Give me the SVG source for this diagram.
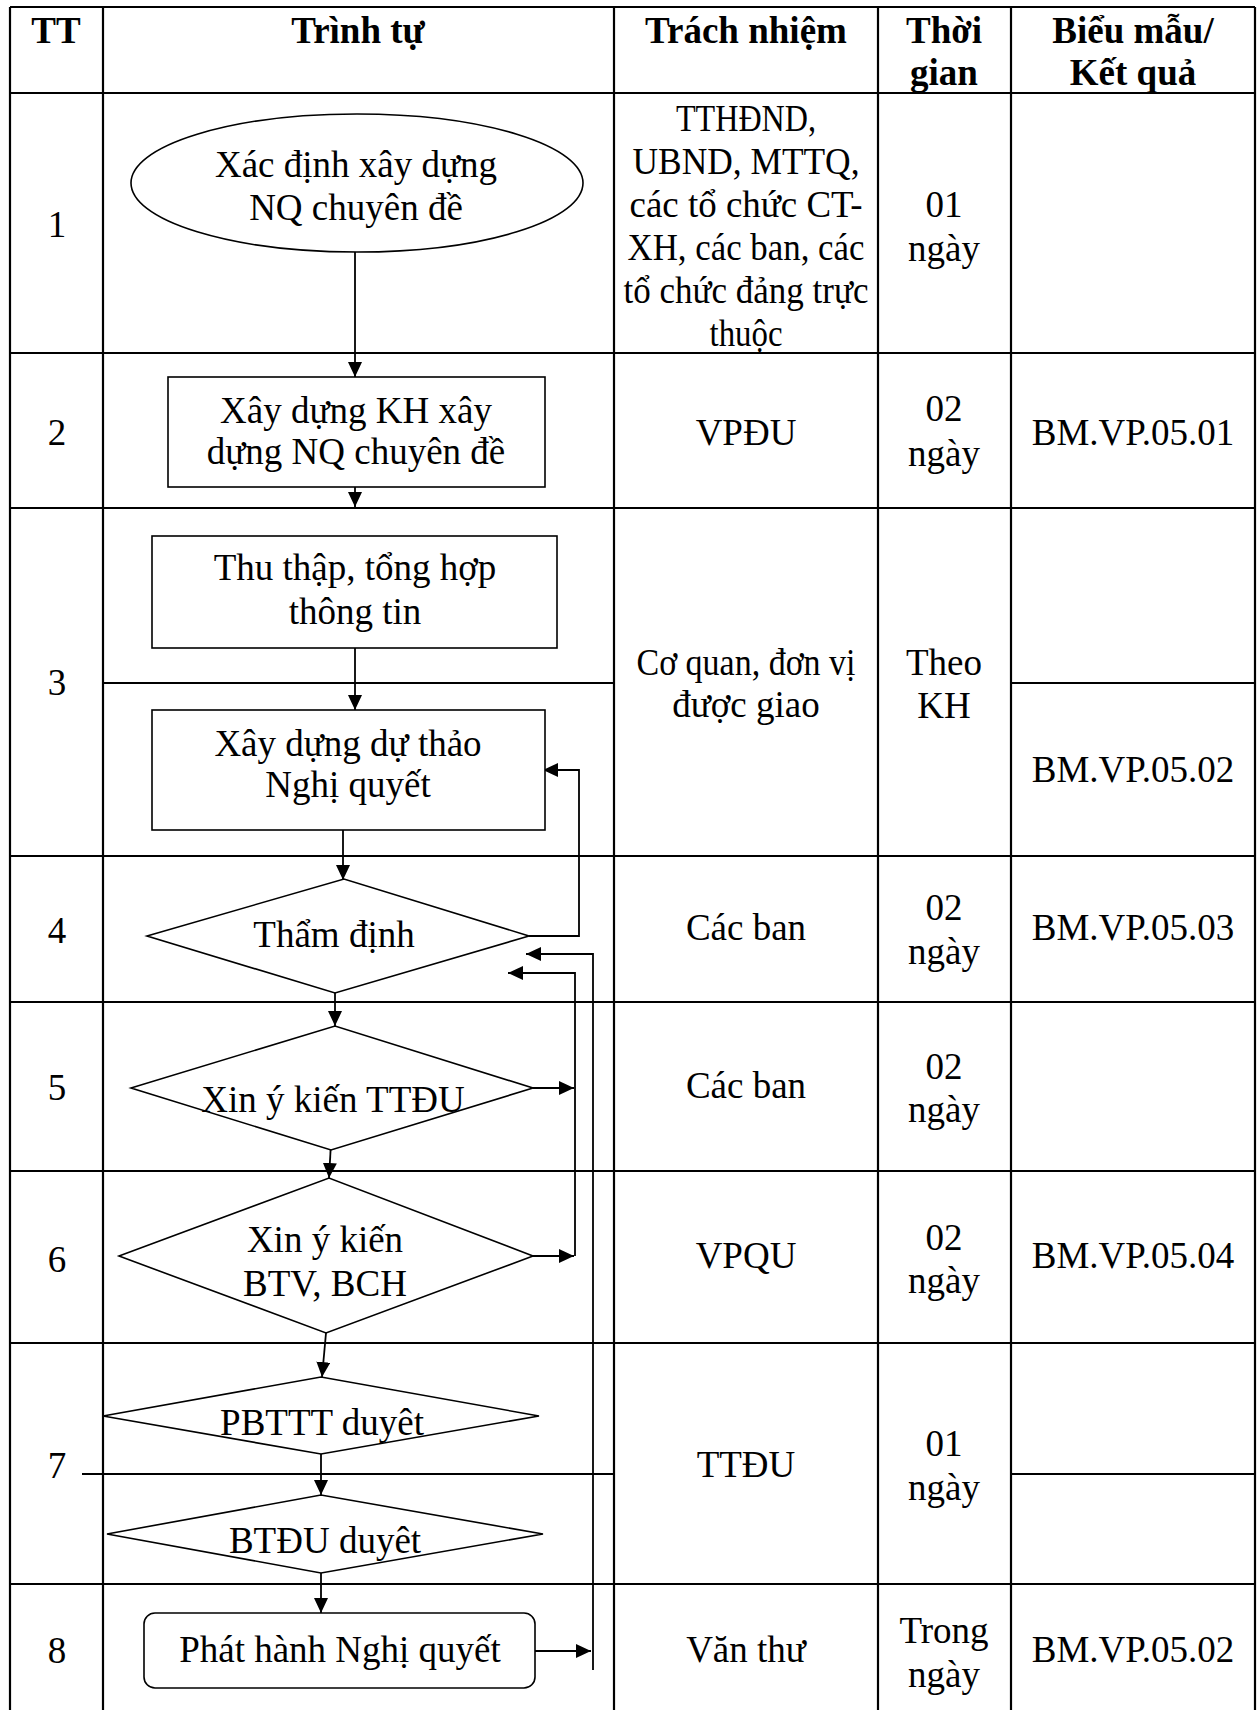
<svg xmlns="http://www.w3.org/2000/svg" width="1257" height="1710" viewBox="0 0 1257 1710">
<style>
.t{font-family:"Liberation Serif","Times New Roman",serif;font-size:37px;text-anchor:middle;fill:#000}
.h{font-weight:bold}
.grid{stroke:#000;stroke-width:2.2;fill:none}
.shape{stroke:#000;stroke-width:1.6;fill:#fff}
.con{stroke:#000;stroke-width:1.8;fill:none}
</style>
<defs>
<marker id="ah" markerWidth="15" markerHeight="14" refX="15" refY="7" orient="auto" markerUnits="userSpaceOnUse">
<path d="M0,0 L15,7 L0,14 z" fill="#000"/>
</marker>
</defs>
<rect width="1257" height="1710" fill="#fff"/>
<g id="table">
<path class="grid" d="M10,7 V1710 M1255,7 V1710 M10,7 H1255 M103,7 V1710 M614,7 V1710 M878,7 V1710 M1011,7 V1710
M10,93 H1255 M10,353 H1255 M10,508 H1255 M10,856 H1255 M10,1002 H1255 M10,1171 H1255 M10,1343 H1255 M10,1584 H1255
M103,683 H614 M1011,683 H1255 M82,1474 H614 M1011,1474 H1255"/>
<g id="header">
<text class="t h" x="56" y="43">TT</text>
<text class="t h" x="358" y="43">Trình tự</text>
<text class="t h" x="746" y="43">Trách nhiệm</text>
<text class="t h" x="944" y="43">Thời</text>
<text class="t h" x="944" y="85">gian</text>
<text class="t h" x="1133" y="43">Biểu mẫu/</text>
<text class="t h" x="1133" y="85">Kết quả</text>
</g>
<g id="col-tt">
<text class="t" x="57" y="237">1</text>
<text class="t" x="57" y="445">2</text>
<text class="t" x="57" y="695">3</text>
<text class="t" x="57" y="943">4</text>
<text class="t" x="57" y="1100">5</text>
<text class="t" x="57" y="1272">6</text>
<text class="t" x="57" y="1478">7</text>
<text class="t" x="57" y="1663">8</text>
</g>
<g id="col-trach-nhiem">
<text class="t" x="746" y="131" textLength="140" lengthAdjust="spacingAndGlyphs">TTHĐND,</text>
<text class="t" x="746" y="174" textLength="227" lengthAdjust="spacingAndGlyphs">UBND, MTTQ,</text>
<text class="t" x="746" y="217" textLength="233" lengthAdjust="spacingAndGlyphs">các tổ chức CT-</text>
<text class="t" x="746" y="260" textLength="237" lengthAdjust="spacingAndGlyphs">XH, các ban, các</text>
<text class="t" x="746" y="303" textLength="245" lengthAdjust="spacingAndGlyphs">tổ chức đảng trực</text>
<text class="t" x="746" y="346" textLength="73" lengthAdjust="spacingAndGlyphs">thuộc</text>
<text class="t" x="746" y="445">VPĐU</text>
<text class="t" x="746" y="675" textLength="219" lengthAdjust="spacingAndGlyphs">Cơ quan, đơn vị</text>
<text class="t" x="746" y="717">được giao</text>
<text class="t" x="746" y="940">Các ban</text>
<text class="t" x="746" y="1098">Các ban</text>
<text class="t" x="746" y="1268">VPQU</text>
<text class="t" x="746" y="1477">TTĐU</text>
<text class="t" x="746" y="1662">Văn thư</text>
</g>
<g id="col-thoi-gian">
<text class="t" x="944" y="217">01</text>
<text class="t" x="944" y="261">ngày</text>
<text class="t" x="944" y="421">02</text>
<text class="t" x="944" y="466">ngày</text>
<text class="t" x="944" y="675">Theo</text>
<text class="t" x="944" y="718">KH</text>
<text class="t" x="944" y="920">02</text>
<text class="t" x="944" y="964">ngày</text>
<text class="t" x="944" y="1079">02</text>
<text class="t" x="944" y="1122">ngày</text>
<text class="t" x="944" y="1250">02</text>
<text class="t" x="944" y="1293">ngày</text>
<text class="t" x="944" y="1456">01</text>
<text class="t" x="944" y="1500">ngày</text>
<text class="t" x="944" y="1643">Trong</text>
<text class="t" x="944" y="1687">ngày</text>
</g>
<g id="col-bieu-mau">
<text class="t" x="1133" y="445">BM.VP.05.01</text>
<text class="t" x="1133" y="782">BM.VP.05.02</text>
<text class="t" x="1133" y="940">BM.VP.05.03</text>
<text class="t" x="1133" y="1268">BM.VP.05.04</text>
<text class="t" x="1133" y="1662">BM.VP.05.02</text>
</g>
</g>
<g id="connectors">
<line class="con" x1="355" y1="252" x2="355" y2="377" marker-end="url(#ah)"/>
<line class="con" x1="355" y1="487" x2="355" y2="507" marker-end="url(#ah)"/>
<line class="con" x1="355" y1="648" x2="355" y2="710" marker-end="url(#ah)"/>
<line class="con" x1="343" y1="830" x2="343" y2="880" marker-end="url(#ah)"/>
<polyline class="con" points="529,936 579,936 579,770 543,770" marker-end="url(#ah)"/>
<line class="con" x1="335" y1="993" x2="335" y2="1026" marker-end="url(#ah)"/>
<line class="con" x1="331" y1="1143" x2="329" y2="1178" marker-end="url(#ah)"/>
<line class="con" x1="533" y1="1088" x2="574" y2="1088" marker-end="url(#ah)"/>
<line class="con" x1="533" y1="1256" x2="574" y2="1256" marker-end="url(#ah)"/>
<polyline class="con" points="575,1256 575,973 508,973" marker-end="url(#ah)"/>
<polyline class="con" points="593,1670 593,954 526,954" marker-end="url(#ah)"/>
<line class="con" x1="326" y1="1333" x2="322" y2="1377" marker-end="url(#ah)"/>
<line class="con" x1="321" y1="1454" x2="321" y2="1495" marker-end="url(#ah)"/>
<line class="con" x1="321" y1="1573" x2="321" y2="1613" marker-end="url(#ah)"/>
<line class="con" x1="535" y1="1651" x2="591" y2="1651" marker-end="url(#ah)"/>
</g>
<g id="n1">
<ellipse class="shape" cx="357" cy="183" rx="226" ry="69"/>
<text class="t" x="356" y="177">Xác định xây dựng</text>
<text class="t" x="356" y="220">NQ chuyên đề</text>
</g>
<g id="n2">
<rect class="shape" x="168" y="377" width="377" height="110"/>
<text class="t" x="356" y="423">Xây dựng KH xây</text>
<text class="t" x="356" y="464">dựng NQ chuyên đề</text>
</g>
<g id="n3">
<rect class="shape" x="152" y="536" width="405" height="112"/>
<text class="t" x="355" y="580">Thu thập, tổng hợp</text>
<text class="t" x="355" y="624">thông tin</text>
</g>
<g id="n4">
<rect class="shape" x="152" y="710" width="393" height="120"/>
<text class="t" x="348" y="756">Xây dựng dự thảo</text>
<text class="t" x="348" y="797">Nghị quyết</text>
</g>
<g id="n5">
<polygon class="shape" points="147,936 344,879 529,936 335,993"/>
<text class="t" x="334" y="947">Thẩm định</text>
</g>
<g id="n6">
<polygon class="shape" points="131,1088 335,1026 533,1088 331,1150"/>
<text class="t" x="333" y="1112">Xin ý kiến TTĐU</text>
</g>
<g id="n7">
<polygon class="shape" points="119,1256 329,1178 533,1256 326,1333"/>
<text class="t" x="325" y="1252">Xin ý kiến</text>
<text class="t" x="325" y="1296">BTV, BCH</text>
</g>
<g id="n8">
<polygon class="shape" points="103,1416 321,1377 539,1416 321,1454"/>
<text class="t" x="322" y="1435">PBTTT duyêt</text>
</g>
<g id="n9">
<polygon class="shape" points="107,1534 321,1495 543,1534 321,1573"/>
<text class="t" x="325" y="1553">BTĐU duyêt</text>
</g>
<g id="n10">
<rect class="shape" x="144" y="1613" width="391" height="75" rx="11"/>
<text class="t" x="340" y="1662">Phát hành Nghị quyết</text>
</g>
</svg>
